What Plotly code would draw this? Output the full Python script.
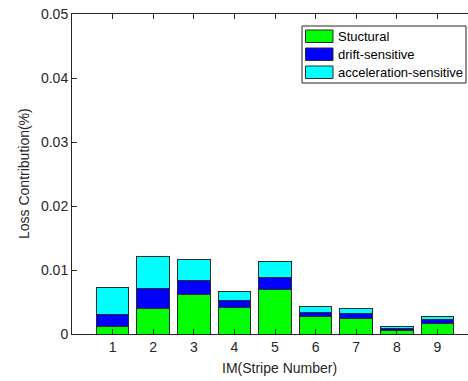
import plotly.graph_objects as go

# ---- data ----
stripes = [1, 2, 3, 4, 5, 6, 7, 8, 9]
structural = [0.0011, 0.0040, 0.0062, 0.0041, 0.0070, 0.0027, 0.0025, 0.0006, 0.0017]
drift_sensitive = [0.0020, 0.0031, 0.0021, 0.0012, 0.0018, 0.0007, 0.0007, 0.0002, 0.0006]
accel_sensitive = [0.0041, 0.0050, 0.0033, 0.0014, 0.0025, 0.0009, 0.0008, 0.0003, 0.0005]
series_names = ["Stuctural", "drift-sensitive", "acceleration-sensitive"]
series_colors = ["#00FF00", "#0000FF", "#00FFFF"]
y_tickvals = [0, 0.01, 0.02, 0.03, 0.04, 0.05]
y_ticktext = ["0", "0.01", "0.02", "0.03", "0.04", "0.05"]

W, H = 468, 381
ML, MR, MT, MB = 72, 0, 14, 47
PW, PH = W - ML - MR, H - MT - MB
px_per_unit = 40.6
x_max = PW / px_per_unit

FONT = "Liberation Sans, Arial, Helvetica, sans-serif"
AX = "#262626"

fig = go.Figure()
for vals, name, col in zip([structural, drift_sensitive, accel_sensitive], series_names, series_colors):
    fig.add_trace(go.Bar(x=stripes, y=vals, name=name, width=0.8,
                         marker=dict(color=col, line=dict(color="#2a2a2a", width=1)),
                         showlegend=False))

def px_x(p):
    return (p - ML) / PW

def px_y(p):
    return (H - MB - p) / PH

shapes = []
annotations = []
# legend box
shapes.append(dict(type="rect", xref="paper", yref="paper",
                   x0=px_x(302), x1=px_x(466), y0=px_y(83), y1=px_y(26),
                   line=dict(color=AX, width=1), fillcolor="white", layer="above"))
row_tops = [30, 48, 66]
for top, name, col in zip(row_tops, series_names, series_colors):
    shapes.append(dict(type="rect", xref="paper", yref="paper",
                       x0=px_x(305.5), x1=px_x(333), y0=px_y(top + 12.5), y1=px_y(top),
                       line=dict(color="#2a2a2a", width=1), fillcolor=col, layer="above"))
    annotations.append(dict(text=name, xref="paper", yref="paper",
                            x=px_x(335.5), y=px_y(top + 6.5), xanchor="left", yanchor="middle",
                            showarrow=False, font=dict(family=FONT, size=13, color="black")))

# axis titles
annotations.append(dict(text="IM(Stripe Number)", xref="paper", yref="paper",
                        x=px_x(279), y=px_y(368), xanchor="center", yanchor="middle",
                        showarrow=False, font=dict(family=FONT, size=14, color=AX)))
annotations.append(dict(text="Loss Contribution(%)", xref="paper", yref="paper",
                        x=px_x(24), y=px_y(174), xanchor="center", yanchor="middle",
                        textangle=-90, showarrow=False, font=dict(family=FONT, size=14, color=AX)))

fig.update_layout(
    width=W, height=H,
    margin=dict(l=ML, r=MR, t=MT, b=MB, pad=0),
    paper_bgcolor="white", plot_bgcolor="white",
    barmode="stack",
    shapes=shapes, annotations=annotations,
    font=dict(family=FONT, size=14, color=AX),
    xaxis=dict(range=[0, x_max], tickvals=stripes, ticks="inside", ticklen=5,
               tickcolor=AX, showline=True, linecolor=AX, linewidth=1,
               mirror="ticks", showgrid=False, zeroline=False,
               tickfont=dict(family=FONT, size=14, color=AX)),
    yaxis=dict(range=[0, 0.05], tickvals=y_tickvals, ticktext=y_ticktext,
               ticks="inside", ticklen=5, tickcolor=AX, showline=True,
               linecolor=AX, linewidth=1, mirror=False, showgrid=False,
               zeroline=False, tickfont=dict(family=FONT, size=14, color=AX)),
)

fig.write_html("out.html")
